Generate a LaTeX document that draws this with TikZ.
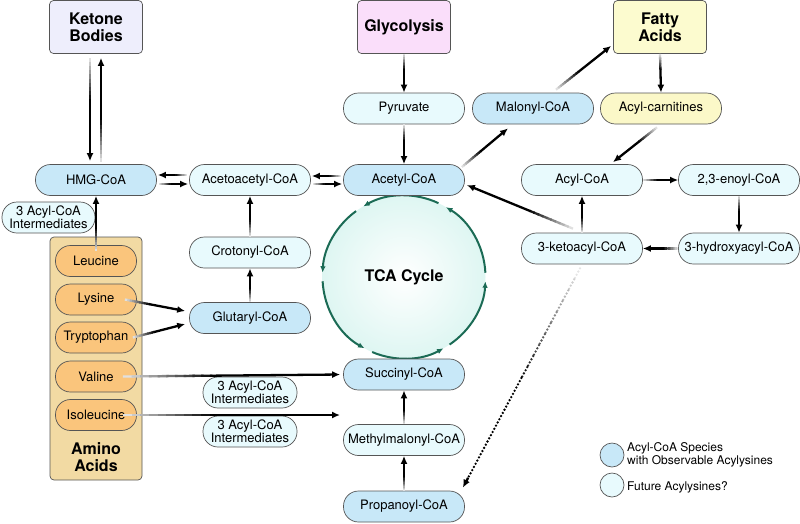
\documentclass[tikz,border=0pt]{standalone}
\usepackage{fontspec}
\setmainfont{TeX Gyre Heros}
\usetikzlibrary{arrows.meta,calc}
\definecolor{cblue}{RGB}{200,232,248}
\definecolor{clight}{RGB}{232,250,253}
\definecolor{corange}{RGB}{250,197,124}
\definecolor{ctan}{RGB}{242,218,163}
\definecolor{clav}{RGB}{238,238,252}
\definecolor{cpink}{RGB}{250,222,250}
\definecolor{cyel}{RGB}{252,251,207}
\definecolor{cyel2}{RGB}{251,248,200}
\definecolor{bord}{RGB}{85,85,85}
\definecolor{tcagreen}{RGB}{27,107,85}
\definecolor{tcafill}{RGB}{222,246,242}
\tikzset{
 pill/.style={draw=bord, line width=0.7pt, rounded corners=15pt, minimum width=121pt, minimum height=31pt, inner sep=0pt, font=\fontsize{13}{13.5}\selectfont, align=center},
 obs/.style={pill, fill=cblue},
 fut/.style={pill, fill=clight},
 inter/.style={pill, fill=clight, minimum width=94pt, font=\fontsize{13}{13}\selectfont},
 aa/.style={pill, fill=corange, minimum width=81pt},
 topbox/.style={draw=bord, line width=0.7pt, rounded corners=4pt, minimum width=93pt, minimum height=53pt, inner sep=0pt, font=\bfseries\fontsize{16}{17.5}\selectfont, align=center},
 arr/.style={line width=2.3pt, -{Latex[length=8pt,width=7pt]}},
 tcaarc/.style={draw=tcagreen, line width=2pt, -{Latex[length=6.5pt,width=5.5pt]}},
 dotline/.style={line width=2.6pt, line cap=round, dash pattern=on 0pt off 3.6pt},
}
\newcommand\fadearrow[3][]{%
 \foreach \k in {0,...,9}{%
  \pgfmathsetmacro\ka{\k/25}%
  \pgfmathsetmacro\kb{(\k+1.3)/25}%
  \pgfmathsetmacro\kc{12+\k*9}%
  \draw[line width=2.3pt,draw=black!\kc,#1] ($(#2)!\ka!(#3)$) -- ($(#2)!\kb!(#3)$);
 }%
 \draw[arr,#1] ($(#2)!0.4!(#3)$) -- (#3);%
}
\begin{document}
\begin{tikzpicture}[x=1pt,y=-1pt]
\useasboundingbox (0,0) rectangle (800,523);
% TCA cycle
\coordinate (tca) at (404,277);
\shade[inner color=white, outer color=tcafill] (tca) circle (81.5);
\node[font=\bfseries\fontsize{16}{18}\selectfont] (tcat) at (404,277) {TCA Cycle};
\draw[tcaarc] ($(tca)+(-304:81.5)$) arc[start angle=-304,end angle=-357,radius=81.5];
\draw[tcaarc] ($(tca)+(-3:81.5)$) arc[start angle=-3,end angle=-59,radius=81.5];
\draw[tcaarc] ($(tca)+(-65:81.5)$) arc[start angle=-65,end angle=-120,radius=81.5];
\draw[tcaarc] ($(tca)+(-126:81.5)$) arc[start angle=-126,end angle=-177,radius=81.5];
\draw[tcaarc] ($(tca)+(-183:81.5)$) arc[start angle=-183,end angle=-241,radius=81.5];
\draw[tcaarc] ($(tca)+(-247:81.5)$) arc[start angle=-247,end angle=-299,radius=81.5];

% Amino acid box
\node[draw=bord, line width=0.7pt, fill=ctan, rounded corners=4pt, minimum width=92pt, minimum height=243pt, inner sep=0pt] (aabox) at (96,358.5) {};
\node[font=\bfseries\fontsize{16}{17.5}\selectfont, align=center] (aat) at (96,457) {Amino\\Acids};

% top boxes
\node[topbox, fill=clav] (kb) at (96,27) {Ketone\\Bodies};
\node[topbox, fill=cpink] (gly) at (404,27) {Glycolysis};
\node[topbox, fill=cyel] (fa) at (660,27) {Fatty\\Acids};

% row 2
\node[fut] (pyr) at (404,108.5) {Pyruvate};
\node[obs] (mal) at (533,108.5) {Malonyl-CoA};
\node[pill, fill=cyel2] (acar) at (661,108.5) {Acyl-carnitines};

% row 3
\node[obs] (hmg) at (96,180) {HMG-CoA};
\node[fut] (aca) at (250,180) {Acetoacetyl-CoA};
\node[obs] (acet) at (404,180) {Acetyl-CoA};
\node[fut] (acyl) at (582,180) {Acyl-CoA};
\node[fut] (enoyl) at (739,180) {2,3-enoyl-CoA};

\node[inter, minimum width=93pt] (int1) at (48.5,217.5) {3 Acyl-CoA\\Intermediates};

\node[fut] (keto) at (582,248.5) {3-ketoacyl-CoA};
\node[fut] (hyd) at (739,248.5) {3-hydroxyacyl-CoA};

\node[fut] (crot) at (250,252.5) {Crotonyl-CoA};
\node[obs] (glut) at (250,318) {Glutaryl-CoA};

\node[aa] (leu) at (96,261) {Leucine};
\node[aa] (lys) at (96,299.5) {Lysine};
\node[aa] (trp) at (96,337.5) {Tryptophan};
\node[aa] (val) at (96,376.5) {Valine};
\node[aa] (ile) at (96,415) {Isoleucine};

\node[obs] (succ) at (404,374.5) {Succinyl-CoA};
\node[fut] (mmal) at (404,440) {Methylmalonyl-CoA};
\node[obs] (prop) at (404,506.5) {Propanoyl-CoA};

\node[inter] (int2) at (250,392.5) {3 Acyl-CoA\\Intermediates};
\node[inter] (int3) at (250,431.5) {3 Acyl-CoA\\Intermediates};

% legend
\node[circle, draw=bord, line width=0.7pt, fill=cblue, minimum size=24pt, inner sep=0pt] (lg1) at (612,455) {};
\node[circle, draw=bord, line width=0.7pt, fill=clight, minimum size=24pt, inner sep=0pt] (lg2) at (612,485) {};
\node[anchor=west, align=left, font=\fontsize{12}{12.5}\selectfont, inner sep=0pt] (lt1) at (627,455) {Acyl-CoA Species\\with Observable Acylysines};
\node[anchor=west, align=left, font=\fontsize{12}{12.5}\selectfont, inner sep=0pt] (lt2) at (627,487) {Future Acylysines?};

% coordinates for connectors
\coordinate (kbL) at ($(kb.south)+(-6,4)$);
\coordinate (hmgL) at ($(hmg.north)+(-6,-3)$);
\coordinate (kbR) at ($(kb.south)+(5,4)$);
\coordinate (hmgR) at ($(hmg.north)+(5,-2)$);
\coordinate (hmgE1) at ($(hmg.east)+(1,-5)$);
\coordinate (acaW1) at ($(aca.west)+(-2,-5)$);
\coordinate (hmgE2) at ($(hmg.east)+(2,4)$);
\coordinate (acaW2) at ($(aca.west)+(-1,4)$);
\coordinate (acaE1) at ($(aca.east)+(1,-4)$);
\coordinate (acetW1) at ($(acet.west)+(-2,-4)$);
\coordinate (acaE2) at ($(aca.east)+(2,4)$);
\coordinate (acetW2) at ($(acet.west)+(-1,4)$);
\coordinate (acetNE) at ($(acet.east)+(-3,-13)$);
\coordinate (malSW) at ($(mal.south)+(-25,4)$);
\coordinate (malNE) at ($(mal.north)+(23,-3)$);
\coordinate (faSW) at ($(fa.south west)+(-2,-8)$);
\coordinate (acarS) at ($(acar.south)+(-4,3)$);
\coordinate (acylN) at ($(acyl.north)+(31,-2)$);
\coordinate (ketoNW) at ($(keto.north)+(-9,-4)$);
\coordinate (acetE) at ($(acet.east)+(2,5)$);
\coordinate (ketoS) at ($(keto.south)+(-2,4)$);
\coordinate (propNE) at ($(prop.north east)+(-2,-3)$);
\coordinate (leuN) at ($(leu.north)+(0,6)$);
\coordinate (lysE) at ($(lys.east)+(-12,0)$);
\coordinate (glutW1) at ($(glut.west)+(-4,-7)$);
\coordinate (trpE) at ($(trp.east)+(-4,0)$);
\coordinate (glutW2) at ($(glut.west)+(-4,6)$);
\coordinate (valE) at ($(val.east)+(-14,0)$);
\coordinate (succW) at ($(succ.west)+(-3,0)$);
\coordinate (ileE) at ($(ile.east)+(-14,0)$);
\coordinate (ileT) at (340,415);

% connectors
\fadearrow{gly.south}{pyr.north}
\fadearrow{pyr.south}{acet.north}
\fadearrow{acetNE}{malSW}
\fadearrow{malNE}{faSW}
\fadearrow{fa.south}{acar.north}
\fadearrow{acarS}{acylN}
\fadearrow{acyl.east}{enoyl.west}
\fadearrow{enoyl.south}{hyd.north}
\fadearrow{hyd.west}{keto.east}
\fadearrow{keto.north}{acyl.south}
\fadearrow{ketoNW}{acetE}
% dotted fading connector
\foreach \k in {0,...,9}{%
  \pgfmathsetmacro\ka{\k/20}%
  \pgfmathsetmacro\kb{(\k+1)/20}%
  \pgfmathsetmacro\kc{10+\k*9}%
  \draw[dotline,draw=black!\kc] ($(ketoS)!\ka!(propNE)$) -- ($(ketoS)!\kb!(propNE)$);
}
\draw[dotline] ($(ketoS)!0.5!(propNE)$) -- ($(ketoS)!0.96!(propNE)$);
\draw[line width=2.3pt, -{Latex[length=8pt,width=7pt]}] ($(ketoS)!0.955!(propNE)$) -- (propNE);
\fadearrow{kbL}{hmgL}
\fadearrow{hmgR}{kbR}
\fadearrow{acaW1}{hmgE1}
\fadearrow{hmgE2}{acaW2}
\fadearrow{acetW1}{acaE1}
\fadearrow{acaE2}{acetW2}
\fadearrow{crot.north}{aca.south}
\fadearrow{glut.north}{crot.south}
\fadearrow{leuN}{hmg.south}
\fadearrow{lysE}{glutW1}
\fadearrow{trpE}{glutW2}
\fadearrow{valE}{succW}
\fadearrow{ileE}{ileT}
\fadearrow{mmal.north}{succ.south}
\fadearrow{prop.north}{mmal.south}
\end{tikzpicture}
\end{document}
